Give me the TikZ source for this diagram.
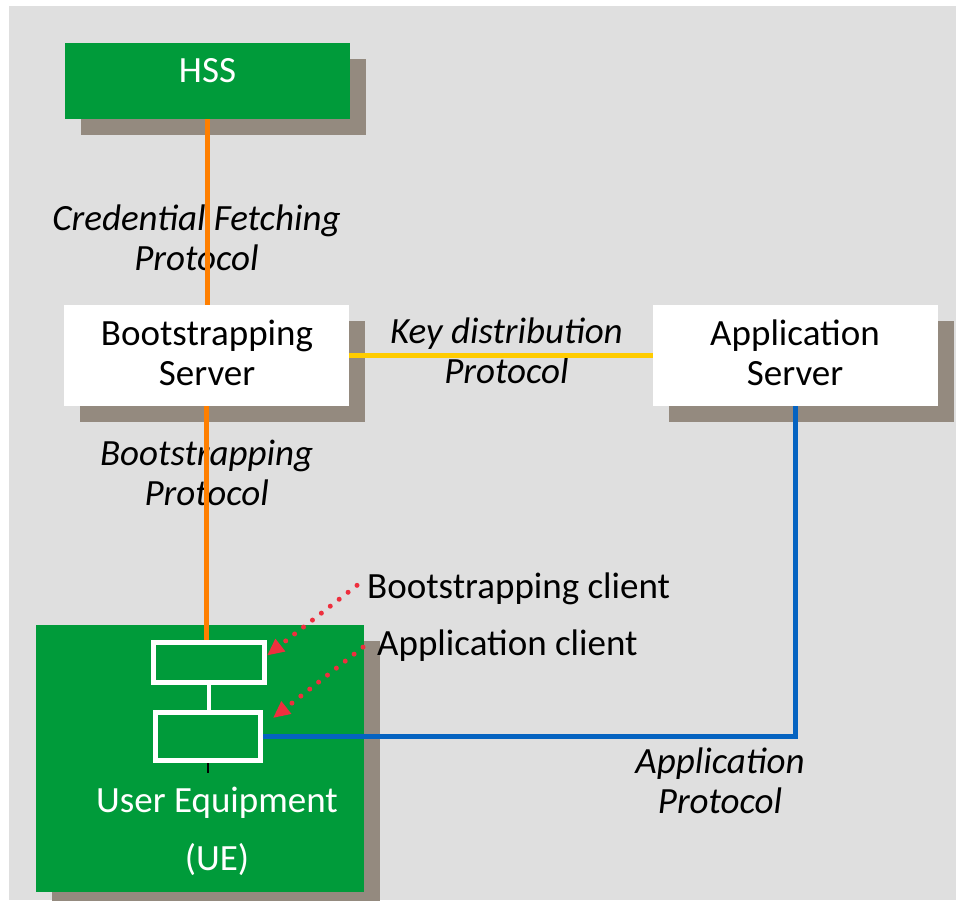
\documentclass[tikz,border=0pt]{standalone}
\usepackage{fontspec}
\setmainfont{Carlito}
\usetikzlibrary{arrows.meta,shadows}

\definecolor{bgc}{HTML}{DFDFDF}
\definecolor{boxgreen}{HTML}{009B3A}
\definecolor{shadowc}{HTML}{948A7F}
\definecolor{orangec}{HTML}{FF7F00}
\definecolor{yellowc}{HTML}{FFCC00}
\definecolor{bluec}{HTML}{0563C1}
\definecolor{redc}{HTML}{EE2F3E}

\tikzset{
  entity/.style={inner sep=0pt, outer sep=0pt,
    drop shadow={shadow xshift=16pt, shadow yshift=-16pt, opacity=1, fill=shadowc}},
  greenbox/.style={entity, fill=boxgreen},
  whitebox/.style={entity, fill=white},
  clientbox/.style={draw=white, line width=5pt, inner sep=0pt, fill=boxgreen},
  txt/.style={inner sep=0pt, align=center, font={\fontsize{37}{40}\selectfont}},
  itxt/.style={txt, font={\fontsize{37}{40}\selectfont\itshape}},
  link/.style={line width=5pt},
  pointer/.style={redc, line width=5pt, line cap=round,
    dash pattern=on 0pt off 11.3pt, -{Triangle[length=17pt,width=15pt]}},
}

\begin{document}
\begin{tikzpicture}[x=1pt, y=-1pt]
  \useasboundingbox (0,0) rectangle (957,900);
  \fill[bgc] (9,6) rectangle (956,900);

  % network entities
  \node[greenbox, minimum width=285pt, minimum height=76pt] (hss) at (207.5,81) {};
  \node[whitebox, minimum width=285pt, minimum height=101pt] (bs) at (206.5,355.5) {};
  \node[whitebox, minimum width=285pt, minimum height=101pt] (as) at (795.5,355.5) {};
  \node[greenbox, minimum width=328pt, minimum height=267pt] (ue) at (200,758.5) {};

  % clients inside the UE
  \node[clientbox, minimum width=111pt, minimum height=40pt] (bc) at (209,662.5) {};
  \node[clientbox, minimum width=105pt, minimum height=48pt] (ac) at (208,736.5) {};
  \draw[white, line width=4pt] (bc.south) -- (bc.south |- ac.north);
  \draw[black, line width=1.5pt] (ac.south) -- ++(0,10);

  % entity names (base = baseline of the last line)
  \node[txt, text=white, anchor=base] (hsst) at (207.5,82) {HSS};
  \node[txt, anchor=base] (bst) at (207,385) {Bootstrapping\\Server};
  \node[txt, anchor=base] (ast) at (795,385) {Application\\Server};
  \node[txt, text=white, anchor=base] (uet) at (217,870) {User Equipment\\[18pt](UE)};

  % protocol names
  \node[itxt, anchor=base] (cfp) at (196.5,270) {Credential Fetching\\Protocol};
  \node[itxt, anchor=base] (kdp) at (506.5,383) {Key distribution\\Protocol};
  \node[itxt, anchor=base] (bsp) at (206.7,505) {Bootstrapping\\Protocol};
  \node[itxt, anchor=base] (app) at (720,813) {Application\\Protocol};

  % client names
  \node[txt, anchor=base west] (bct) at (367,598) {Bootstrapping client};
  \node[txt, anchor=base west] (act) at (377,655) {Application client};

  % protocol links
  \draw[link, orangec] (hss.south) -- (hss.south |- bs.north);
  \draw[link, orangec] (bs.south) -- (bs.south |- bc.north);
  \draw[link, yellowc] (bs.east) -- (as.west);
  \draw[link, bluec] (ac.east) -| (as.south);

  % pointers to the clients
  \draw[pointer] ([xshift=-10pt,yshift=3pt]bct.west) -- ([yshift=7pt]bc.east);
  \draw[pointer] ([xshift=-14pt,yshift=-2pt]act.west) -- ([shift={(10pt,18.5pt)}]ac.east);
\end{tikzpicture}
\end{document}
